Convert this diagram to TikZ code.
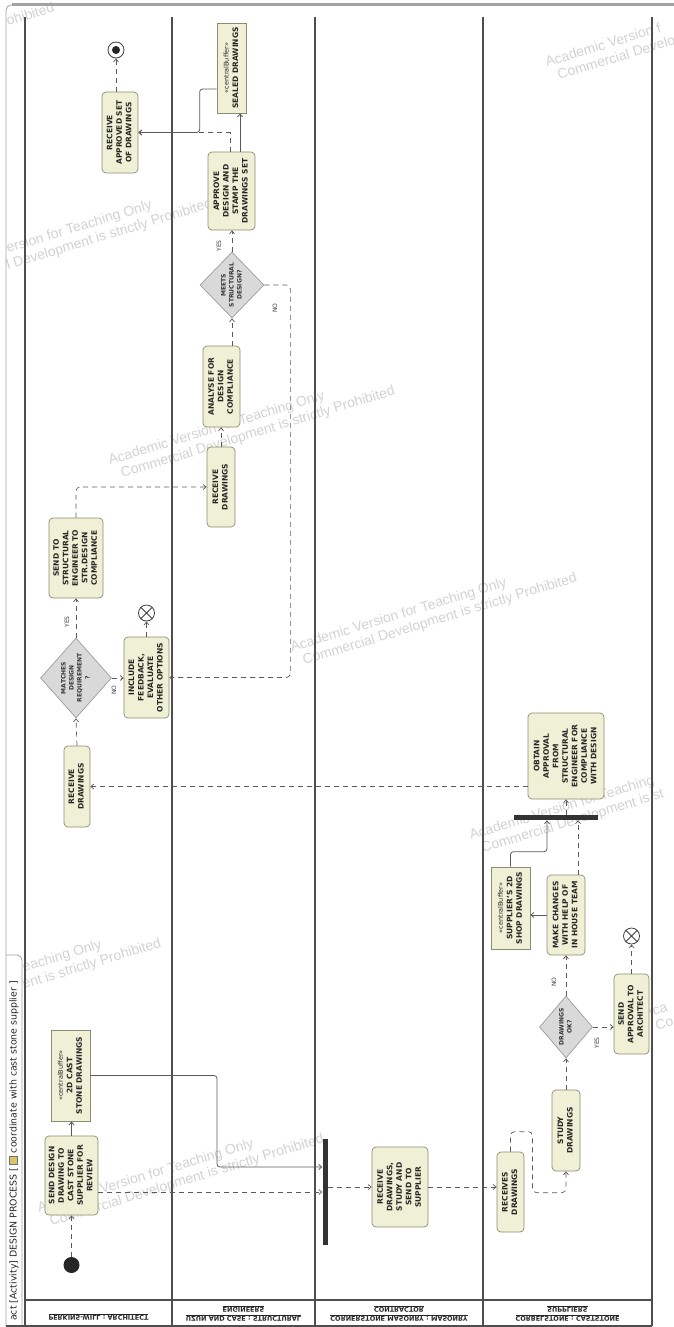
\documentclass[tikz,border=0pt]{standalone}
\usepackage{fontspec}
\setmainfont{DejaVu Sans}
\newfontfamily\wmfont{Liberation Sans}
\usetikzlibrary{arrows.meta,shapes.geometric,calc}
\definecolor{boxfill}{HTML}{F0F0D6}
\definecolor{boxline}{HTML}{8C8C72}
\definecolor{dfill}{HTML}{D9D9D9}
\definecolor{dline}{HTML}{9C9C9C}
\definecolor{flowc}{HTML}{5A5A5A}
\definecolor{lanec}{HTML}{4E4E4E}
\definecolor{framec}{HTML}{A2A2A2}
\definecolor{wmc}{HTML}{D2D2D2}
\definecolor{iconc}{HTML}{D9C468}
\newcommand{\rtxt}[1]{\rotatebox{90}{\begin{tabular}{@{}c@{}}#1\end{tabular}}}
\newcommand{\cbuf}{{\normalfont\fontsize{6.5}{9.5}\selectfont «centralBuffer»}}
\newcommand{\flipt}[1]{\scalebox{1}[-1]{\begin{tabular}{@{}c@{}}#1\end{tabular}}}
\newcommand{\wmark}[2]{%
  \node[wmk] (#1a) at #2 {Academic Version for Teaching Only};
  \node[wmk] (#1b) at ($#2+(12.3,13)$) {Commercial Development is strictly Prohibited};}
\begin{document}
\begin{tikzpicture}[x=1pt,y=-1pt,
  wmk/.style={font=\wmfont\fontsize{14}{16}\selectfont, text=wmc, rotate=17, anchor=base west, inner sep=0pt},
  actbox/.style={draw=boxline, fill=boxfill, rounded corners=4pt, line width=0.7pt, inner sep=0pt,
    font=\fontsize{7.5}{9.5}\selectfont\bfseries, text=black!85},
  objbox/.style={draw=boxline, fill=boxfill, line width=0.7pt, inner sep=0pt,
    font=\fontsize{7.5}{9.5}\selectfont\bfseries, text=black!85},
  decbox/.style={diamond, draw=dline, fill=dfill, line width=0.7pt, inner sep=0pt},
  dtext/.style={font=\fontsize{6}{8}\selectfont\bfseries, text=black!80, inner sep=0pt},
  bar/.style={fill=black!80, inner sep=0pt},
  cf/.style={draw=flowc, line width=0.7pt, dash pattern=on 5pt off 4pt, -{Straight Barb[length=3pt,width=5pt]}},
  of/.style={draw=flowc, line width=0.8pt, -{Straight Barb[length=3pt,width=5pt]}},
  lbl/.style={font=\fontsize{6}{7}\selectfont, text=black!75, inner sep=0pt},
  hdr/.style={font=\fontsize{6.5}{9}\selectfont\bfseries, text=black!85, inner sep=0pt},
  laneline/.style={draw=lanec, line width=1.2pt},
  ffinal/.style={circle, draw=black!75, fill=white, line width=0.8pt, minimum size=16pt, inner sep=0pt}
]
\useasboundingbox (0,0) rectangle (674,1327);
% watermarks (partly outside the frame in the original, only visible parts kept)
\node[wmk] (w1b) at (8,26) {ohibited};
\node[wmk] (w2a) at (547,67) {Academic Version f};
\node[wmk] (w2b) at (559,80) {Commercial Develo};
\node[wmk] (w3a) at (8,253) {ersion for Teaching Only};
\node[wmk] (w3b) at (8,270) {l Development is strictly Prohibited};
\wmark{w4}{(110,465)}
\wmark{w5}{(292,652)}
\node[wmk] (w6a) at (24,972) {eaching Only};
\node[wmk] (w6b) at (24,989) {ent is strictly Prohibited};
\wmark{w7}{(39,1213)}
\node[wmk] (w8a) at (471,840) {Academic Version for Teaching};
\node[wmk] (w8b) at (483,853) {Commercial Development is st};
\node[wmk] (w9a) at (645,1018) {Aca};
\node[wmk] (w9b) at (657,1031) {Co};
% frame
\draw[framec, line width=0.8pt, rounded corners=5pt] (6,1327) -- (6,5) -- (20,5);
\draw[framec, line width=3pt] (12,5) -- (674,5);
\draw[framec, line width=0.8pt, rounded corners=5pt] (22,1327) -- (22,955) -- (6,955);
\node[font=\fontsize{9.4}{11}\selectfont, text=black!85, rotate=90, anchor=west, inner sep=0pt] (title) at (14,1321)
  {act [Activity] DESIGN PROCESS [ {\fboxsep=0pt\fcolorbox{black!55}{iconc}{\rule{0pt}{7pt}\hspace{8pt}}} coordinate with cast stone supplier ]};
% lanes
\foreach \x in {25,172,315,483,652} \draw[laneline] (\x,17) -- (\x,1326);
\draw[laneline] (25,1300) -- (652,1300);
\draw[laneline] (6,1326) -- (652,1326);
\node[hdr] (h1) at (98.5,1317) {\flipt{\underline{PERKINS-WILL : ARCHITECT}}};
\node[hdr] (h2) at (243.5,1314) {\flipt{\underline{UZUN AND CASE : STRUCTURAL}\\\underline{ENGINEERS}}};
\node[hdr] (h3) at (399,1314) {\flipt{\underline{CORNERSTONE MASONRY : MASONRY}\\\underline{CONTRACTOR}}};
\node[hdr] (h4) at (567.5,1314) {\flipt{\underline{CORBELSTONE : CASTSTONE}\\\underline{SUPPLIERS}}};
% architect lane
\node[circle, fill=black!85, minimum size=16pt, inner sep=0pt] (init) at (71.5,1265) {};
\node[actbox, minimum width=53pt, minimum height=79pt] (a1) at (71.5,1175.5) {\rtxt{SEND DESIGN\\DRAWING TO\\CAST STONE\\SUPPLIER FOR\\REVIEW}};
\node[objbox, minimum width=39pt, minimum height=91pt] (o1) at (70.5,1075.5) {\rtxt{\cbuf\\2D CAST\\STONE DRAWINGS}};
\node[actbox, minimum width=26pt, minimum height=81pt] (a2) at (77,786.5) {\rtxt{RECEIVE\\DRAWINGS}};
\node[decbox, minimum width=71pt, minimum height=80pt] (d1) at (76,678) {};
\node[dtext] (d1t) at (d1) {\rtxt{MATCHES\\DESIGN\\REQUIREMENT\\?}};
\node[actbox, minimum width=54pt, minimum height=80pt] (a3) at (76,558) {\rtxt{SEND TO\\STRUCTURAL\\ENGINEER TO\\STR.DESIGN\\COMPLIANCE}};
\node[actbox, minimum width=45pt, minimum height=81pt] (a4) at (146.5,677.5) {\rtxt{INCLUDE\\FEEDBACK,\\EVALUATE\\OTHER OPTIONS}};
\node[ffinal] (ff1) at (146.5,613) {};
\draw[black!75, line width=0.8pt] (ff1.45) -- (ff1.225) (ff1.135) -- (ff1.315);
\node[actbox, minimum width=36pt, minimum height=81pt] (a5) at (120,132.5) {\rtxt{RECEIVE\\APPROVED SET\\OF DRAWINGS}};
\node[ffinal] (fin) at (116,50) {};
\node[circle, fill=black!85, minimum size=8pt, inner sep=0pt] (finin) at (fin) {};
% structural lane
\node[actbox, minimum width=28pt, minimum height=80pt] (a6) at (221,487) {\rtxt{RECEIVE\\DRAWINGS}};
\node[actbox, minimum width=37pt, minimum height=81pt] (a7) at (221.5,386.5) {\rtxt{ANALYSE FOR\\DESIGN\\COMPLIANCE}};
\node[decbox, minimum width=64pt, minimum height=66pt] (d2) at (232,285) {};
\node[dtext] (d2t) at (d2) {\rtxt{MEETS\\STRUCTURAL\\DESIGN?}};
\node[actbox, minimum width=47pt, minimum height=78pt] (a8) at (231.5,191) {\rtxt{APPROVE\\DESIGN AND\\STAMP THE\\DRAWINGS SET}};
\node[objbox, minimum width=29pt, minimum height=90pt] (o2) at (231.5,68) {\rtxt{\cbuf\\SEALED DRAWINGS}};
% masonry lane
\node[bar, minimum width=5pt, minimum height=106pt] (fork) at (325,1192) {};
\node[actbox, minimum width=56pt, minimum height=80pt] (a9) at (400,1187) {\rtxt{RECEIVE\\DRAWINGS,\\STUDY AND\\SEND TO\\SUPPLIER}};
% supplier lane
\node[actbox, minimum width=27pt, minimum height=80pt] (a10) at (510.5,1192) {\rtxt{RECEIVES\\DRAWINGS}};
\node[actbox, minimum width=28pt, minimum height=81pt] (a11) at (566,1130.5) {\rtxt{STUDY\\DRAWINGS}};
\node[decbox, minimum width=53pt, minimum height=62pt] (d3) at (566,1027) {};
\node[dtext] (d3t) at (d3) {\rtxt{DRAWINGS\\OK?}};
\node[actbox, minimum width=35pt, minimum height=80pt] (a12) at (631.5,1014) {\rtxt{SEND\\APPROVAL TO\\ARCHITECT}};
\node[ffinal] (ff2) at (631.5,936) {};
\draw[black!75, line width=0.8pt] (ff2.45) -- (ff2.225) (ff2.135) -- (ff2.315);
\node[actbox, minimum width=38pt, minimum height=80pt] (a13) at (566,915) {\rtxt{MAKE CHANGES\\WITH HELP OF\\IN HOUSE TEAM}};
\node[objbox, minimum width=39pt, minimum height=82pt] (o3) at (510.5,908) {\rtxt{\cbuf\\SUPPLIER'S 2D\\SHOP DRAWINGS}};
\node[bar, minimum width=84pt, minimum height=5pt] (join) at (556,817.5) {};
\node[actbox, minimum width=76pt, minimum height=86pt] (a14) at (566,756) {\rtxt{OBTAIN\\APPROVAL\\FROM\\STRUCTURAL\\ENGINEER FOR\\COMPLIANCE\\WITH DESIGN}};
% connectors
\draw[cf] (init.north) -- (init.north |- a1.south);
\draw[of] (a1.north) -- (a1.north |- o1.south);
\draw[of, rounded corners=3pt] (o1.east) -- (217,1075.5) |- ([yshift=25pt]fork.west);
\draw[cf] (a1.east |- fork.west) -- (fork.west);
\draw[cf] (fork.east |- a9.west) -- (a9.west);
\draw[cf] (a9.east) -- (a10.west |- a9.east);
\draw[cf, rounded corners=4pt] (a10.north) -- ++(0,-20) -- ++(22,0) -- ++(0,61) -| (a11.south);
\draw[cf] (a11.north) -- (d3.south);
\draw[cf] (d3.north) -- (a13.south);
\draw[cf] (d3.east) -- (a12.west |- d3.east);
\draw[cf] (a12.north) -- (ff2.south);
\draw[of] (a13.west) -- (o3.east |- a13.west);
\draw[of, rounded corners=3pt] (o3.north) -- ++(0,-15) -| ([xshift=-9pt]join.south);
\draw[cf] ([xshift=12pt]a13.north) -- ([xshift=12pt]a13.north |- join.south);
\draw[cf] (join.north -| a14.south) -- (a14.south);
\draw[cf] (a14.west |- a2.east) -- (a2.east);
\draw[cf] (a2.north) -- (d1.south);
\draw[cf] (d1.north) -- (a3.south);
\draw[cf] (d1.east) -- (a4.west |- d1.east);
\draw[cf] (a4.north) -- (ff1.south);
\draw[cf, rounded corners=4pt] (a3.north) |- (a6.west);
\draw[cf] (a6.north) -- (a6.north |- a7.south);
\draw[cf] (a7.north -| d2.south) -- (d2.south);
\draw[cf] (d2.north) -- (d2.north |- a8.south);
\draw[cf, rounded corners=4pt] (d2.east) -- ++(26,0) |- (a4.east);
\draw[of] ([xshift=8.5pt]a8.north) -- ([xshift=8.5pt]a8.north |- o2.south);
\draw[cf] ([xshift=-1.5pt]a8.north) |- (a5.east);
\draw[of, rounded corners=3pt] ([yshift=-21pt]o2.west) -- ++(-17,0) |- (a5.east);
\draw[cf] (a5.north -| fin.south) -- (fin.south);
% guard labels
\node[lbl] (yes1) at (67,622) {\rotatebox{90}{YES}};
\node[lbl] (no1) at (114,690) {\rotatebox{90}{NO}};
\node[lbl] (yes2) at (219,246) {\rotatebox{90}{YES}};
\node[lbl] (no2) at (275,308) {\rotatebox{90}{NO}};
\node[lbl] (no3) at (554,982) {\rotatebox{90}{NO}};
\node[lbl] (yes3) at (597,1043) {\rotatebox{90}{YES}};
\end{tikzpicture}
\end{document}
